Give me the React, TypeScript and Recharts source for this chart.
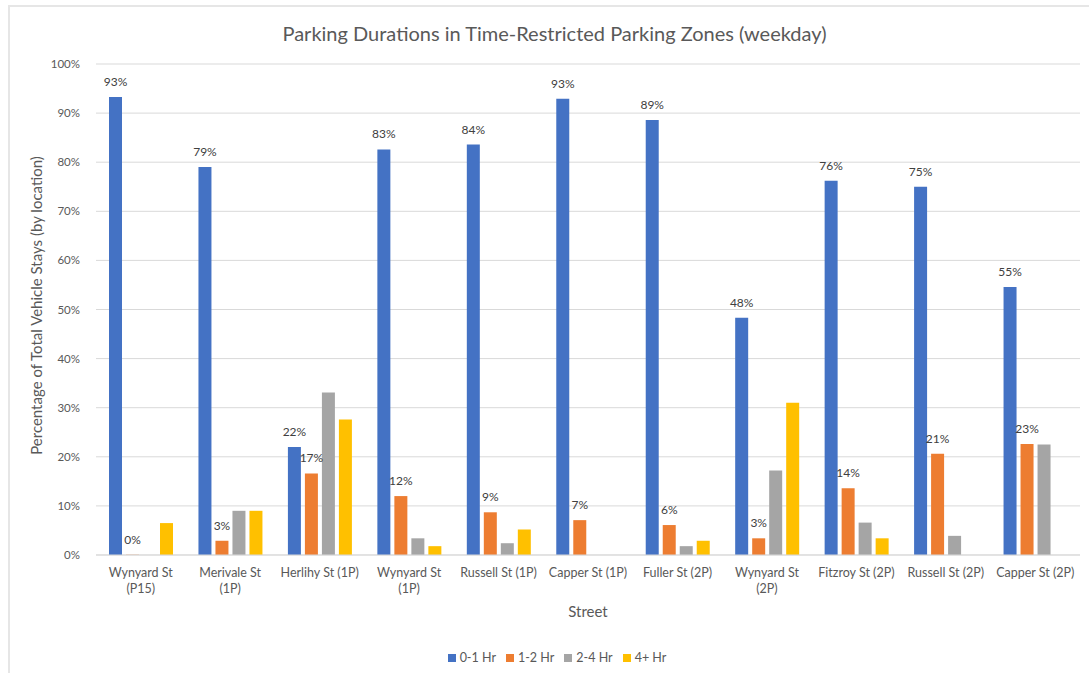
import React from 'react';
import { BarChart, Bar, XAxis, YAxis, CartesianGrid, Legend, LabelList } from 'recharts';

const streets = [
  'Wynyard St (P15)', 'Merivale St (1P)', 'Herlihy St (1P)', 'Wynyard St (1P)', 'Russell St (1P)',
  'Capper St (1P)', 'Fuller St (2P)', 'Wynyard St (2P)', 'Fitzroy St (2P)', 'Russell St (2P)', 'Capper St (2P)',
];
const streetTickLines = [
  ['Wynyard St', '(P15)'], ['Merivale St', '(1P)'], ['Herlihy St (1P)'], ['Wynyard St', '(1P)'], ['Russell St (1P)'],
  ['Capper St (1P)'], ['Fuller St (2P)'], ['Wynyard St', '(2P)'], ['Fitzroy St (2P)'], ['Russell St (2P)'], ['Capper St (2P)'],
];
const hr0to1 = [93.3, 79.0, 22.0, 82.6, 83.6, 92.9, 88.6, 48.3, 76.2, 75.0, 54.6];
const hr1to2 = [0.05, 2.9, 16.6, 12.0, 8.7, 7.1, 6.1, 3.4, 13.6, 20.6, 22.6];
const hr2to4 = [0, 9.0, 33.1, 3.4, 2.4, 0, 1.8, 17.2, 6.6, 3.9, 22.5];
const hr4plus = [6.5, 9.0, 27.6, 1.8, 5.2, 0, 2.9, 31.0, 3.4, 0, 0];
const yTicks = [0, 10, 20, 30, 40, 50, 60, 70, 80, 90, 100];
const seriesNames = ['0-1 Hr', '1-2 Hr', '2-4 Hr', '4+ Hr'];
const seriesColors = ['#4472C4', '#ED7D31', '#A5A5A5', '#FFC000'];

const data = streets.map((s, i) => ({
  street: s,
  a: hr0to1[i],
  b: hr1to2[i],
  c: hr2to4[i],
  d: hr4plus[i],
}));

const FONT = 'Lato, "Open Sans", sans-serif';

const XTick = (props: any) => {
  const { x, y, payload, index } = props;
  const lines = streetTickLines[index] || [payload.value];
  return (
    <g transform={`translate(${x},${y})`}>
      {lines.map((l: string, k: number) => (
        <text key={k} x={0} y={14 + k * 16} textAnchor="middle" fill="#595959" fontSize={12.5} fontFamily={FONT}>
          {l}
        </text>
      ))}
    </g>
  );
};

const fmt = (v: any) => `${Math.round(Number(v))}%`;

export default function App() {
  return (
    <div style={{ position: 'absolute', left: 8, top: 5, width: 1081, height: 668, borderTop: '2px solid #e6e6e6', borderLeft: '2px solid #e6e6e6', background: '#fff', fontFamily: FONT }}>
      <div style={{ position: 'absolute', left: 0, width: 1089, top: 14, textAlign: 'center', fontSize: 20, color: '#595959', fontFamily: FONT }}>
        Parking Durations in Time-Restricted Parking Zones (weekday)
      </div>
      <BarChart
        width={1079}
        height={666}
        data={data}
        margin={{ top: 57, right: 9, bottom: 3, left: 10 }}
        barCategoryGap={13}
        barGap={4}
      >
        <CartesianGrid vertical={false} stroke="#d9d9d9" />
        <XAxis
          dataKey="street"
          interval={0}
          tickLine={false}
          axisLine={{ stroke: '#d9d9d9' }}
          height={91}
          tick={<XTick />}
          label={{ value: 'Street', position: 'insideBottom', offset: 29, fill: '#595959', fontSize: 15, fontFamily: FONT }}
        />
        <YAxis
          width={76}
          domain={[0, 100]}
          ticks={yTicks}
          tickFormatter={(v: number) => `${v}%`}
          axisLine={false}
          tickLine={false}
          tickSize={0}
          tickMargin={16}
          tick={{ fill: '#595959', fontSize: 11.5, fontFamily: FONT }}
          label={{ value: 'Percentage of Total Vehicle Stays (by location)', angle: -90, position: 'insideLeft', offset: 17, dy: -4, style: { textAnchor: 'middle' }, fill: '#595959', fontSize: 15, fontFamily: FONT }}
        />
        <Legend
          verticalAlign="bottom"
          iconType="square"
          iconSize={8}
          height={24}
          wrapperStyle={{ paddingLeft: 12 }}
          formatter={(v: string) => <span style={{ color: '#595959', fontSize: 12.5, fontFamily: FONT }}>{v}</span>}
        />
        <Bar dataKey="a" name={seriesNames[0]} fill={seriesColors[0]} isAnimationActive={false}>
          <LabelList dataKey="a" position="top" formatter={fmt} fill="#404040" fontSize={12} fontFamily={FONT} offset={11} />
        </Bar>
        <Bar dataKey="b" name={seriesNames[1]} fill={seriesColors[1]} isAnimationActive={false}>
          <LabelList dataKey="b" position="top" formatter={fmt} fill="#404040" fontSize={12} fontFamily={FONT} offset={11} />
        </Bar>
        <Bar dataKey="c" name={seriesNames[2]} fill={seriesColors[2]} isAnimationActive={false} />
        <Bar dataKey="d" name={seriesNames[3]} fill={seriesColors[3]} isAnimationActive={false} />
      </BarChart>
    </div>
  );
}
